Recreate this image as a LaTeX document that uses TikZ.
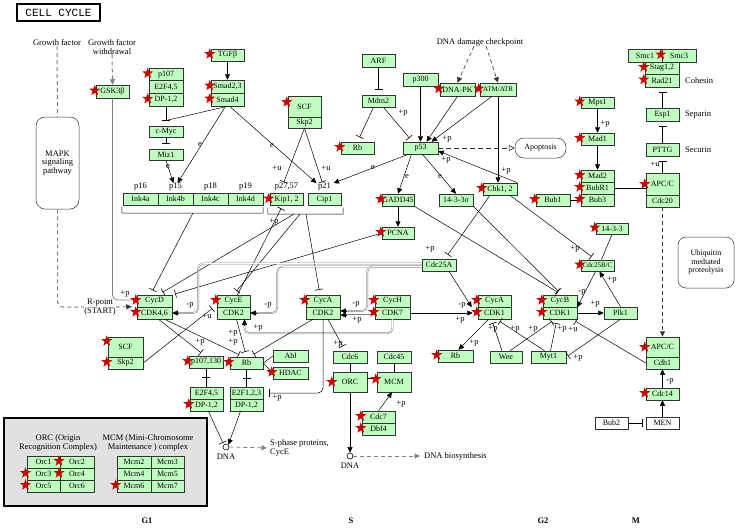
\documentclass[tikz,border=0pt]{standalone}
\usepackage{fontspec}
\setmainfont{Liberation Serif}
\newfontfamily\kmono{Liberation Mono}
\usetikzlibrary{arrows.meta,shapes.geometric,calc}
\definecolor{kgreen}{HTML}{BFFFBF}
\definecolor{kred}{HTML}{CC0000}
\definecolor{lgray}{HTML}{E1E1E1}
\tikzset{
  every node/.style={font=\fontsize{8.5}{8.5}\selectfont},
  gb/.style={draw=black!80, fill=kgreen, line width=0.5pt, inner sep=0pt, font=\fontsize{8}{8.5}\selectfont},
  wb/.style={draw=black!80, fill=white, line width=0.5pt, inner sep=0pt, font=\fontsize{8}{8.5}\selectfont},
  kstar/.style={star, star points=5, star point ratio=2.45, fill=kred, draw=none, minimum size=11.5pt, inner sep=0pt},
  lbl/.style={inner sep=0pt},
  ln/.style={draw=black, line width=0.5pt},
  act/.style={ln, -{Triangle[length=5.5pt,width=5pt]}},
  inh/.style={ln, -{Bar[width=8pt,line width=0.6pt]}, shorten >=5pt},
  dsh/.style={draw=gray, line width=1pt, dash pattern=on 4pt off 3pt},
  dshk/.style={draw=black!80, line width=0.6pt, dash pattern=on 4pt off 3pt},
  dbl/.style={draw=gray, double=white, double distance=0.7pt, line width=0.5pt, rounded corners=5pt},
  tick/.style={ln},
}
\newcommand\kgb[6]{\node[gb,minimum width=#4pt,minimum height=#5pt] (#1) at (#2,#3) {#6};}
\newcommand\kst[2][1]{\node[kstar] (st-#2) at ([xshift=-1pt,yshift=#1pt]#2.west) {};}
\newcommand\klb[3]{\node[lbl] (#1) at (#2) {#3};}
\begin{document}
\begin{tikzpicture}[x=1pt,y=-1pt]
\useasboundingbox (0,0) rectangle (737,530);
% legend background
\node[draw, line width=1.8pt, fill=lgray, minimum width=203pt, minimum height=88pt, inner sep=0pt] (legend) at (105.5,462) {};
\node[draw, line width=2pt, minimum width=83pt, minimum height=17pt, inner sep=0pt, font=\kmono\fontsize{11}{11}\selectfont] (title) at (58.5,12.5) {CELL CYCLE};

% ---------- boxes ----------
\kgb{gsk}{112.5}{91.5}{33}{13}{GSK3β}
\kgb{pa}{166}{74.3}{34}{12.7}{p107}
\kgb{ea}{166}{87}{34}{12.7}{E2F4,5}
\kgb{da}{166}{99.7}{34}{12.7}{DP-1,2}
\kgb{tgfb}{227.5}{55}{33}{12}{TGFβ}
\kgb{smadA}{227.5}{86.5}{33}{13}{Smad2,3}
\kgb{smadB}{227.5}{99.5}{33}{13}{Smad4}
\kgb{cmyc}{166}{131.5}{34}{11.5}{c-Myc}
\kgb{miz}{166}{154.5}{34}{11.5}{Miz1}
\kgb{inka}{140.5}{199}{35}{12}{Ink4a}
\kgb{inkb}{175.5}{199}{35}{12}{Ink4b}
\kgb{inkc}{210.5}{199}{35}{12}{Ink4c}
\kgb{inkd}{245.5}{199}{35}{12}{Ink4d}
\kgb{kip}{286.5}{199.5}{33}{12}{Kip1, 2}
\kgb{cip}{324.5}{199.5}{33}{12}{Cip1}
\kgb{scfa}{304.5}{106.5}{33}{21}{SCF}
\kgb{skpa}{304.5}{122.5}{33}{11}{Skp2}
\kgb{arf}{378.5}{60.5}{33}{13}{ARF}
\kgb{mdm}{378.5}{101}{33}{12}{Mdm2}
\kgb{rba}{357.5}{148}{33}{12}{Rb}
\kgb{ptr}{420.5}{79.5}{35}{13}{p300}
\kgb{pft}{420.5}{148}{35}{12}{p53}
\kgb{dnapk}{457.5}{89.5}{35}{13}{DNA-PK}
\node[gb,minimum width=36pt,minimum height=13pt,font=\fontsize{7}{8}\selectfont] (atm) at (498,89.5) {ATM/ATR};
\kgb{chk}{500}{189}{34}{12}{Chk1, 2}
\node[wb, rounded corners=9pt, minimum width=51pt, minimum height=20pt] (apop) at (540.5,148) {Apoptosis};
\kgb{gadd}{398}{200}{32}{12}{GADD45}
\kgb{sig}{456}{200}{34}{12}{14-3-3σ}
\kgb{pcna}{398}{233}{32}{12}{PCNA}
\kgb{cdcA}{439}{265}{34}{12}{Cdc25A}
\kgb{cycd}{154.5}{301}{35}{12}{CycD}
\kgb{cdkf}{154.5}{313}{35}{12}{CDK4,6}
\kgb{cyce}{233.5}{301}{33}{12}{CycE}
\kgb{cdke}{233.5}{313}{33}{12}{CDK2}
\kgb{cyca}{323}{301}{34}{12}{CycA}
\kgb{cdka}{323}{313}{34}{12}{CDK2}
\kgb{cych}{392.5}{301}{35}{12}{CycH}
\kgb{cdks}{392.5}{313}{35}{12}{CDK7}
\kgb{cycab}{494.5}{301}{33}{12}{CycA}
\kgb{cdkoa}{494.5}{313}{33}{12}{CDK1}
\kgb{cycb}{560}{301}{34}{12}{CycB}
\kgb{cdkob}{560}{313}{34}{12}{CDK1}
\kgb{plk}{620.5}{313}{33}{12}{Plk1}
\node[gb,minimum width=33pt,minimum height=11.5pt,font=\fontsize{7}{8}\selectfont] (cdcBC) at (597.5,265.5) {Cdc25B/C};
\kgb{fz}{612}{228.5}{32}{11.5}{14-3-3}
\kgb{mps}{597.5}{102.5}{33}{11.5}{Mps1}
\kgb{madA}{597.5}{139}{33}{12}{Mad1}
\kgb{madB}{597.5}{176}{33}{12}{Mad2}
\kgb{bubr}{597.5}{188}{33}{12}{BubR1}
\kgb{bubt}{597.5}{200}{33}{12}{Bub3}
\kgb{bubo}{553}{200}{34}{12}{Bub1}
\kgb{apcA}{662.5}{184}{33}{22}{APC/C}
\kgb{cdcT}{662.5}{201}{33}{12}{Cdc20}
\kgb{pttg}{662.5}{149.5}{33}{13}{PTTG}
\kgb{esp}{662.5}{114.5}{33}{13}{Esp1}
\kgb{smcA}{645}{55.5}{34}{13}{Smc1}
\kgb{smcB}{679}{55.5}{34}{13}{Smc3}
\kgb{stag}{662}{68}{34}{12}{Stag1,2}
\kgb{rad}{662}{80.5}{34}{13}{Rad21}
\node[wb, rounded corners=8pt, align=center, minimum width=56pt, minimum height=51pt] (ubq) at (706,262.5) {Ubiquitin\\mediated\\proteolysis};
\kgb{apcB}{662.5}{347}{33}{20}{APC/C}
\kgb{cdh}{662.5}{363}{33}{12}{Cdh1}
\kgb{cdcFt}{662.5}{394}{33}{12}{Cdc14}
\node[wb, minimum width=33pt, minimum height=12pt] (men) at (662.5,423) {MEN};
\node[wb, minimum width=33pt, minimum height=12pt] (bubtwo) at (611.5,423) {Bub2};
\kgb{wee}{506}{357}{32}{12}{Wee}
\kgb{myt}{548.5}{357}{35}{12}{Myt1}
\kgb{rbc}{455.5}{356}{35}{12}{Rb}
\kgb{scfb}{125.5}{347}{35}{20}{SCF}
\kgb{skpb}{125.5}{363}{35}{12}{Skp2}
\kgb{pot}{206}{362}{34}{12}{p107,130}
\kgb{rbb}{246.5}{363}{33}{12}{Rb}
\kgb{abl}{290.5}{356}{35}{12}{Abl}
\kgb{hdac}{290.5}{373}{35}{12}{HDAC}
\kgb{efb}{206.5}{393}{33}{12}{E2F4,5}
\kgb{dpb}{206.5}{405}{33}{12}{DP-1,2}
\kgb{efc}{246.5}{393}{33}{12}{E2F1,2,3}
\kgb{dpc}{246.5}{405}{33}{12}{DP-1,2}
\kgb{cdcS}{350}{357}{34}{12}{Cdc6}
\kgb{cdcFF}{394}{357}{34}{12}{Cdc45}
\kgb{orc}{350}{382}{34}{20}{ORC}
\kgb{mcm}{394}{382}{34}{20}{MCM}
\kgb{cdcSe}{378.5}{417}{33}{12}{Cdc7}
\kgb{dbf}{378.5}{429}{33}{12}{Dbf4}
\node[wb, rounded corners=9pt, align=center, minimum width=43pt, minimum height=92pt, font=\fontsize{8.5}{8.5}\selectfont] (mapk) at (57.5,163) {MAPK\\signaling\\pathway};
% legend cells
\kgb{orca}{43.5}{462}{33.5}{12}{Orc1}
\kgb{orcb}{77}{462}{33.5}{12}{Orc2}
\kgb{orcc}{43.5}{474}{33.5}{12}{Orc3}
\kgb{orcd}{77}{474}{33.5}{12}{Orc4}
\kgb{orce}{43.5}{486}{33.5}{12}{Orc5}
\kgb{orcf}{77}{486}{33.5}{12}{Orc6}
\kgb{mcma}{134}{462}{34}{12}{Mcm2}
\kgb{mcmb}{167.5}{462}{33}{12}{Mcm3}
\kgb{mcmc}{134}{474}{34}{12}{Mcm4}
\kgb{mcmd}{167.5}{474}{33}{12}{Mcm5}
\kgb{mcme}{134}{486}{34}{12}{Mcm6}
\kgb{mcmf}{167.5}{486}{33}{12}{Mcm7}
% DNA circles
\node[circle, draw, line width=0.6pt, fill=white, minimum size=6pt, inner sep=0pt] (dnaA) at (226,447) {};
\node[circle, draw, line width=0.6pt, fill=white, minimum size=6pt, inner sep=0pt] (dnaB) at (350,456) {};

% ---------- text labels ----------
\klb{gf}{57,43}{Growth factor}
\node[lbl, align=center] (gfw) at (112,47) {Growth factor\\withdrawal};
\klb{ddc}{480,42}{DNA damage checkpoint}
\klb{lpxvi}{140.5,187}{p16}
\klb{lpxv}{175.5,187}{p15}
\klb{lpxviii}{210.5,187}{p18}
\klb{lpxix}{245.5,187}{p19}
\klb{lkipt}{286.5,187}{p27,57}
\klb{lcipt}{324.5,187}{p21}
\node[lbl, anchor=west] (coh) at (685,81) {Cohesin};
\node[lbl, anchor=west] (sepn) at (685,115) {Separin};
\node[lbl, anchor=west] (secn) at (685,150) {Securin};
\node[lbl, align=center] (rpoint) at (100,307) {R-point\\(START)};
\node[lbl, align=left, anchor=west] (sph) at (270,448) {S-phase proteins,\\CycE};
\klb{dnatA}{226,457}{DNA}
\klb{dnatB}{350,466}{DNA}
\node[lbl, anchor=west] (dbs) at (424,456) {DNA biosynthesis};
\node[lbl, align=center] (orct) at (58,443) {ORC (Origin\\Recognition Complex)};
\node[lbl, align=center] (mcmt) at (148,443) {MCM (Mini-Chromosome\\Maintenance ) complex};
\node[lbl, font=\bfseries\fontsize{8.5}{8.5}\selectfont] (phA) at (147,521) {G1};
\node[lbl, font=\bfseries\fontsize{8.5}{8.5}\selectfont] (phB) at (351,521) {S};
\node[lbl, font=\bfseries\fontsize{8.5}{8.5}\selectfont] (phC) at (543,521) {G2};
\node[lbl, font=\bfseries\fontsize{8.5}{8.5}\selectfont] (phD) at (636,521) {M};

% ---------- connectors ----------
\draw[dsh] (gf.south) -- (mapk.north);
\draw[dsh, rounded corners=6pt] (mapk.south) |- (rpoint.west);
\draw[dshk, -{Triangle[length=5.5pt,width=5pt]}] (rpoint.east) -- ([xshift=-5pt]cdkf.north west);
\draw[dsh, -{Triangle[length=5.5pt,width=5pt]}] (gfw.south) -- (gsk.north);
\draw[draw=gray, line width=0.8pt, rounded corners=5pt] (gsk.south) |- ([xshift=-4pt,yshift=1pt]cycd.west);
\draw[act] (tgfb.south) -- (smadA.north);
\draw[inh] (da.south) -- (cmyc.north);
\draw[ln] (smadB.south) -- ([yshift=5pt]cmyc.north);
\draw[inh] (cmyc.south) -- (miz.north);
\draw[act] (miz.south) -- ([xshift=-2pt]lpxv.north);
\draw[act] ([xshift=-2pt]smadB.south) -- ([xshift=2pt]lpxv.north);
\draw[act] ([xshift=2pt]smadB.south) -- ([xshift=-8pt]lcipt.north);
\draw[inh, shorten >=1pt] (skpa.south) -- ([xshift=-3pt]lkipt.north);
\draw[inh, shorten >=1pt] (skpa.south) -- ([xshift=-2pt]lcipt.north);
\draw[act] ([xshift=-12pt]pft.south) -- ([xshift=9pt]lcipt.north);
\draw[inh] (arf.south) -- (mdm.north);
\draw[inh] ([xshift=-5pt]mdm.south) -- (rba.north);
\draw[inh] ([xshift=5pt]mdm.south) -- ([xshift=-8pt]pft.north);
\draw[act] (ptr.south) -- (pft.north);
\draw[act] (dnapk.south) -- ([xshift=6pt]pft.north);
\draw[act] ([xshift=-6pt]atm.south) -- ([xshift=11pt]pft.north);
\draw[act] (atm.south) -- (atm.south |- chk.north);
\draw[act] (chk.north east) -- ([yshift=-3pt]pft.east);
\draw[dshk, dash pattern=on 5pt off 3pt, -{Triangle[open,length=6pt,width=6pt]}] (pft.east) -- (apop.west);
\draw[dshk, -{Triangle[length=5.5pt,width=5pt]}] ([xshift=-6pt]ddc.south) -- (dnapk.north);
\draw[dshk, -{Triangle[length=5.5pt,width=5pt]}] ([xshift=6pt]ddc.south) -- (atm.north);
\draw[act] ([xshift=-9pt]pft.south) -- (gadd.north);
\draw[act] ([xshift=2pt]pft.south) -- (sig.north);
\draw[act] (gadd.south) -- (pcna.north);
% brackets
\coordinate (ibl) at (122,213);
\coordinate (ibr) at (263,213);
\coordinate (ibm) at (193,213);
\draw[ln] ([xshift=-1pt,yshift=-2pt]inka.south west) -- (ibl) -- (ibr) -- ([yshift=-2pt]inkd.south east);
\coordinate (kbl) at (268,214);
\coordinate (kbr) at (343,214);
\coordinate (kbm) at (294,214);
\coordinate (kbn) at (300,214);
\coordinate (kbo) at (306,214);
\draw[ln] ([xshift=-2pt,yshift=-2pt]kip.south west) -- (kbl) -- (kbr) -- ([xshift=2pt,yshift=-2pt]cip.south east);
\draw[inh] (ibm) -- ([xshift=-4pt]cycd.north);
\draw[inh] (kbm) -- ([xshift=4pt]cycd.north);
\draw[inh] (kbn) -- (cyce.north);
\draw[inh] (kbo) -- ([xshift=-3pt]cyca.north);
\draw[inh, shorten >=3pt] ([xshift=4pt]cyce.north) -- ([xshift=-4pt]kip.south);
\draw[inh, shorten >=3pt] (pcna.west) -- (cycd.north east);
\draw[inh, shorten >=2pt] (skpb.east) -- ([xshift=-3pt]cyce.south west);
% Cdc25A
\draw[dbl] ([yshift=1.5pt]cdcA.west) -| ([xshift=26pt]cdkf.east) -- ([xshift=5pt]cdkf.east);
\draw[act] ([xshift=6pt]cdkf.east) -- (cdkf.east);
\draw[dbl] ([yshift=-1.5pt]cdcA.west) -| ([xshift=27pt]cdke.east) -- ([xshift=5pt]cdke.east);
\draw[act] ([xshift=6pt]cdke.east) -- (cdke.east);
\draw[dbl] ([yshift=-1.5pt]cdcA.west) -| ([xshift=27pt,yshift=2pt]cdka.east) -- ([xshift=5pt,yshift=2pt]cdka.east);
\draw[act] ([xshift=6pt,yshift=2pt]cdka.east) -- ([yshift=2pt]cdka.east);
\draw[dbl] ([yshift=-2pt]cdks.west) -- ([xshift=5pt,yshift=-2pt]cdka.east);
\draw[act] ([xshift=6pt,yshift=-2pt]cdka.east) -- ([yshift=-2pt]cdka.east);
\draw[act] (cdks.east) -- ([xshift=-5pt]cdkoa.west);
\draw[act] ([xshift=10pt]cdcA.south) -- ([xshift=-6pt]cycab.south west);
\draw[dbl] (cdks.south) -- ++(0,14) -| ([xshift=11pt,yshift=-5pt]cdke.south);
\draw[act] ([xshift=11pt,yshift=-6pt]cdke.south) -- ([xshift=11pt]cdke.south);
% Chk / G2
\draw[inh] ([xshift=-10pt]chk.south) -- ([xshift=6pt]cdcA.north);
\draw[inh] ([xshift=10pt]chk.south) -- ([xshift=-2pt]cdcBC.north);
\draw[ln] (fz.south) -- ([xshift=4pt]cdcBC.north);
\draw[inh] (gadd.south east) -- ([xshift=2pt]cycb.north);
\draw[inh] (sig.south east) -- ([xshift=2pt]cycb.north);
\draw[act] (cdkob.east) -- (plk.west);
\draw[act] (plk.north) -- ([xshift=2pt]cdcBC.south);
\draw[act] ([xshift=-2pt]cdcBC.south) -- (cycb.south east);
\draw[inh, shorten >=4pt] ([xshift=-4pt]wee.north) -- ([xshift=-3pt]cdkoa.south);
\draw[inh, shorten >=4pt] ([xshift=4pt]wee.north) -- ([xshift=-5pt]cdkob.south);
\draw[inh, shorten >=4pt] ([xshift=-4pt]myt.north) -- ([xshift=2pt]cdkoa.south);
\draw[inh, shorten >=4pt] ([xshift=2pt]myt.north) -- ([xshift=-3pt]cdkob.south);
\draw[inh, shorten >=4pt] (cdh.west) -- ([xshift=12pt]cdkob.south);
\draw[inh, shorten >=2pt] (plk.south) -- (myt.east);
\draw[act] ([xshift=-6pt]cdkoa.south) -- ([xshift=3pt]rbc.north);
% mitotic checkpoint
\draw[act] (mps.south) -- (madA.north);
\draw[act] (madA.south) -- (madB.north);
\draw[ln] (bubo.east) -- (bubt.west);
\draw[ln] (bubr.east) -- (bubr.east -| apcA.west);
\draw[inh] (apcA.north) -- (pttg.south);
\draw[inh] (pttg.north) -- (esp.south);
\draw[inh] (esp.north) -- (esp.north |- rad.south);
\draw[dshk, -{Triangle[length=5.5pt,width=5pt]}] (cdcT.south) -- (apcB.north);
\draw[act] (cdcFt.north) -- (cdh.south);
\draw[act] (men.north) -- (cdcFt.south);
\draw[inh, shorten >=3pt] (bubtwo.east) -- (men.west);
% G1/S
\draw[inh] ([xshift=4pt]cdkf.south) -- ([xshift=-1pt]pot.north);
\draw[inh] ([xshift=10pt]cdkf.south) -- ([xshift=-3pt]rbb.north);
\draw[inh] ([xshift=3pt]cdke.south) -- (rbb.north);
\draw[inh] ([xshift=-10pt]cdka.south) -- ([xshift=3pt]rbb.north);
\draw[ln] (rbb.east) -- (abl.west);
\draw[ln] (rbb.east) -- (hdac.west);
\draw[ln] (rbb.south) -- (efc.north);
\draw[tick] ($(rbb.south)!0.5!(efc.north)+(-4,0)$) -- ++(8,0);
\draw[ln] (pot.south) -- (pot.south |- efb.north);
\draw[tick] ($(pot.south)!0.5!(pot.south |- efb.north)+(-4,0)$) -- ++(8,0);
\draw[inh, rounded corners=5pt, shorten >=6pt] (cdka.south) |- (efc.east);
\draw[inh] ([xshift=5pt]cdka.south) -- ([xshift=-5pt]cdcS.north);
\draw[ln] (cdcS.south) -- (orc.north);
\draw[ln] (cdcFF.south) -- (mcm.north);
\draw[ln] ([yshift=4pt]orc.east) -- ([yshift=4pt]mcm.west);
\draw[act] (cdcSe.north) -- ([xshift=-2pt]mcm.south);
\draw[act] (orc.south) -- (dnaB.north);
\draw[dsh, line width=0.8pt, -{Triangle[length=5.5pt,width=5pt]}, shorten >=4pt] (dnaB.east) -- (dbs.west);
\draw[inh, shorten >=2pt] ([xshift=2pt]dpb.south) -- (dnaA.north west);
\draw[act] ([xshift=-6pt]dpc.south) -- (dnaA.north east);
\draw[dsh, line width=0.8pt, -{Triangle[length=5.5pt,width=5pt]}, shorten >=3pt] (dnaA.east) -- (sph.west);

% ---------- edge labels ----------
\klb{la}{125,294}{+p}
\klb{lb}{168,167}{e}
\klb{lc}{200,145}{e}
\klb{ld}{272,146}{e}
\klb{le}{277,168}{+u}
\klb{lf}{326,168}{+u}
\klb{lg}{373,168}{e}
\klb{lh}{403,113}{+p}
\klb{li}{447,139}{+p}
\klb{lj}{506,171}{+p}
\klb{lk}{446,160}{+p}
\klb{ll}{407,177}{e}
\klb{lm}{440,177}{e}
\klb{ln}{274,222}{+p}
\klb{lo}{190,305}{-p}
\klb{lp}{268,305}{-p}
\klb{lq}{356,304}{-p}
\klb{lr}{357,320}{+p}
\klb{ls}{460,320}{+p}
\klb{lt}{462,305}{-p}
\klb{lu}{258,328}{+p}
\klb{lv}{207,316}{+u}
\klb{lw}{430,249}{+p}
\klb{lx}{575,249}{+p}
\klb{ly}{595,304}{+p}
\klb{lz}{612,280}{+p}
\klb{laa}{582,292}{-p}
\klb{lab}{493,329}{+p}
\klb{lac}{515,329}{+p}
\klb{lad}{533,329}{+p}
\klb{lae}{562,329}{+p}
\klb{laf}{573,329}{+u}
\klb{lag}{578,358}{+p}
\klb{lah}{474,343}{+p}
\klb{lai}{605,124}{+p}
\klb{laj}{655,164}{+u}
\klb{lak}{670,381}{-p}
\klb{lal}{200,342}{+p}
\klb{lam}{233,342}{+p}
\klb{lan}{233,333}{+p}
\klb{lao}{277,398}{+p}
\klb{lap}{338,344}{+p}
\klb{laq}{401,404}{+p}

% ---------- stars ----------
\kst{gsk}\kst{pa}\kst{da}\kst{tgfb}\kst{smadA}\kst{smadB}\kst{kip}
\kst[4.5]{scfa}\kst{rba}\kst{dnapk}\kst{atm}\kst{chk}\kst{gadd}\kst{pcna}
\kst{cycd}\kst{cdkf}\kst{cyce}\kst{cyca}\kst{cych}\kst{cdks}\kst{cycab}\kst{cdkoa}
\kst{cycb}\kst{cdkob}\kst{cdcBC}\kst{fz}\kst{mps}\kst{madA}\kst{madB}\kst{bubr}\kst{bubt}\kst{bubo}
\kst[0]{apcA}\kst{smcB}\kst{stag}\kst{rad}\kst[0]{apcB}\kst{cdcFt}\kst{rbc}
\kst[6]{scfb}\kst{skpb}\kst{pot}\kst{rbb}\kst{hdac}\kst{dpb}\kst[0]{orc}\kst[3]{mcm}\kst{cdcSe}\kst{dbf}
\kst{orcb}\kst{orcc}\kst{orcd}\kst{orce}\kst{mcme}
\end{tikzpicture}
\end{document}
